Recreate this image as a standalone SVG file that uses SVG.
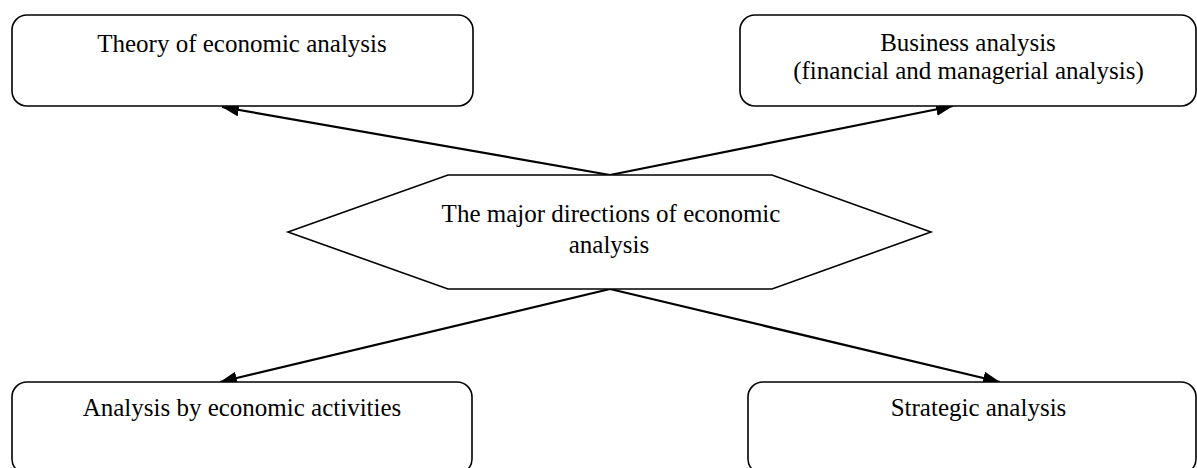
<svg xmlns="http://www.w3.org/2000/svg" width="1197" height="468" viewBox="0 0 1197 468">
<style>
.box{fill:#fff;stroke:#000;stroke-width:1.6}
.t{font-family:"Liberation Serif","Times New Roman",serif;font-size:25px;fill:#000;text-anchor:middle}
.c{stroke:#000;stroke-width:2.2;fill:none}
</style>
<defs>
<marker id="ah" markerUnits="userSpaceOnUse" markerWidth="18" markerHeight="14" refX="17" refY="6.5" orient="auto">
<path d="M0,0 L17,6.5 L0,13 Z" fill="#000"/>
</marker>
</defs>
<rect width="1197" height="468" fill="#fff"/>
<g id="connectors">
<line class="c" x1="610" y1="175" x2="222" y2="107" marker-end="url(#ah)"/>
<line class="c" x1="610" y1="175" x2="953" y2="106" marker-end="url(#ah)"/>
<line class="c" x1="610" y1="289" x2="220" y2="382" marker-end="url(#ah)"/>
<line class="c" x1="610" y1="289" x2="1000" y2="382" marker-end="url(#ah)"/>
</g>
<g id="theory">
<rect class="box" x="12" y="15" width="461" height="91" rx="15"/>
<text class="t" x="242" y="52">Theory of economic analysis</text>
</g>
<g id="business">
<rect class="box" x="740" y="15" width="456" height="91" rx="15"/>
<text class="t" x="968" y="51">Business analysis</text>
<text class="t" x="968.5" y="79">(financial and managerial analysis)</text>
</g>
<g id="center">
<polygon class="box" points="288,232 448,175 772,175 931,232 772,289 448,289"/>
<text class="t" x="611" y="222">The major directions of economic</text>
<text class="t" x="609" y="253">analysis</text>
</g>
<g id="activities">
<rect class="box" x="12" y="382" width="460" height="92" rx="15"/>
<text class="t" x="242" y="416">Analysis by economic activities</text>
</g>
<g id="strategic">
<rect class="box" x="748" y="382" width="448" height="92" rx="15"/>
<text class="t" x="978.5" y="416">Strategic analysis</text>
</g>
</svg>
